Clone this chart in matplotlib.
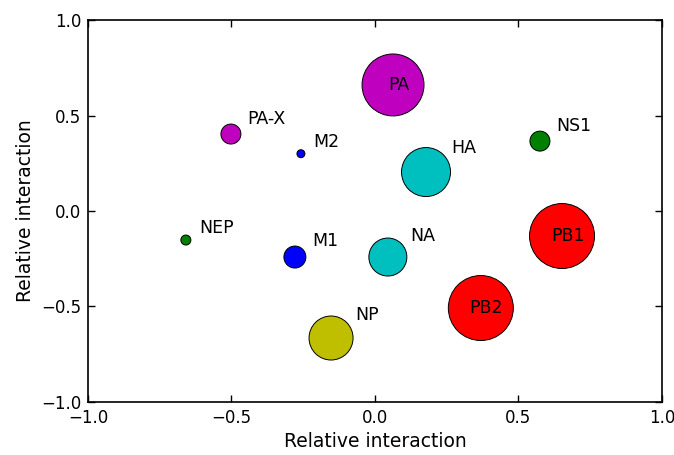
import matplotlib.pyplot as plt
import numpy as np

# ====================================
# DATA
# ====================================

names = ["PA", "PA-X", "M2", "HA", "NS1", "NEP", "M1", "NA", "PB1", "PB2", "NP"]
x_vals = [0.063, -0.502, -0.258, 0.178, 0.575, -0.659, -0.279, 0.045, 0.652, 0.369, -0.153]
y_vals = [0.66, 0.403, 0.30, 0.204, 0.366, -0.152, -0.241, -0.241, -0.131, -0.508, -0.665]
sizes = [1990, 207, 33, 1245, 207, 52, 251, 748, 2190, 2190, 1004]
colors = ["m", "m", "b", "c", "g", "g", "b", "c", "r", "r", "y"]
inside = ["PA", "PB1", "PB2"]

classic = {"m": (0.75, 0, 0.75), "c": (0, 0.75, 0.75), "g": (0, 0.5, 0),
           "b": (0, 0, 1), "r": (1, 0, 0), "y": (0.75, 0.75, 0)}

# ====================================
# PLOT
# ====================================

plt.rcParams["font.family"] = "DejaVu Sans"

fig = plt.figure(figsize=(6.74, 4.55), dpi=100)
ax = fig.add_axes([0.1306, 0.1165, 0.8514, 0.8395])

ax.scatter(x_vals, y_vals, s=sizes, c=[classic[c] for c in colors],
           edgecolors="black", linewidths=0.7, zorder=3)

for name, x, y, s in zip(names, x_vals, y_vals, sizes):
    r = np.sqrt(s) / 2  # radius in points
    if name in inside:
        ax.annotate(name, (x, y), xytext=(4, 0), textcoords="offset points",
                    ha="center", va="center", fontsize=12.5, zorder=4)
    else:
        off = 0.65 * r + 7
        ax.annotate(name, (x, y), xytext=(off, off * 0.95), textcoords="offset points",
                    ha="left", va="center", fontsize=12.5, zorder=4)

ax.set_xlim(-1, 1)
ax.set_ylim(-1, 1)
ax.set_xticks([-1.0, -0.5, 0.0, 0.5, 1.0])
ax.set_yticks([-1.0, -0.5, 0.0, 0.5, 1.0])
ax.tick_params(direction="in", top=True, right=True, length=5, width=1,
               labelsize=12, pad=5)
for sp in ax.spines.values():
    sp.set_linewidth(1.2)

ax.set_xlabel("Relative interaction", fontsize=13.5)
ax.set_ylabel("Relative interaction", fontsize=13.5)

fig.savefig("out.png", dpi=100, facecolor="white")
